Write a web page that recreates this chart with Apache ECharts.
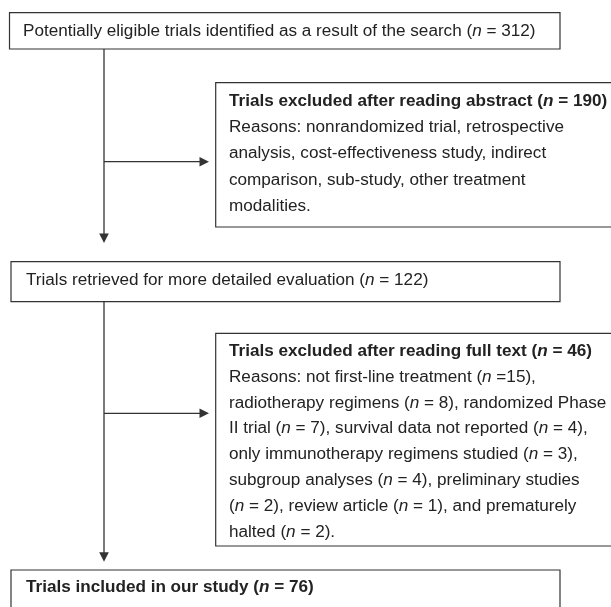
<!DOCTYPE html>
<html><head><meta charset="utf-8">
<script src="https://cdn.jsdelivr.net/npm/echarts@6/dist/echarts.min.js"></script>
<style>html,body{margin:0;padding:0;background:#fff}#c{width:611px;height:607px}</style>
</head><body><div id="c"></div>
<script>
// ---------- data ----------
const stageLabels = ['Potentially eligible trials identified as a result of the search', 'Trials retrieved for more detailed evaluation', 'Trials included in our study'];
const stageCounts = [312, 122, 76];
const exclusionTitles = ['Trials excluded after reading abstract', 'Trials excluded after reading full text'];
const exclusionCounts = [190, 46];
const abstractReasonLines = ['Reasons: nonrandomized trial, retrospective', 'analysis, cost-effectiveness study, indirect', 'comparison, sub-study, other treatment', 'modalities.'];
const fullTextReasonCounts = [15, 8, 7, 4, 3, 4, 2, 1, 2];
// '#k' placeholders are replaced with "(n = count)"; '#k!' uses the tight form "(n =count)"
const fullTextReasonLines = ['Reasons: not first-line treatment #0!,', 'radiotherapy regimens #1, randomized Phase', 'II trial #2, survival data not reported #3,', 'only immunotherapy regimens studied #4,', 'subgroup analyses #5, preliminary studies', '#6, review article #7, and prematurely', 'halted #8.'];

// ---------- layout (pixel space of the hidden axes) ----------
const BOXES = [
  {x0: 9.5, y0: 12.7, x1: 560, y1: 49, tx: 23, ty: 31.5, step: 0},
  {x0: 215.7, y0: 82.7, x1: 640, y1: 227, tx: 229, ty: 101.6, step: 26.2},
  {x0: 11, y0: 261.7, x1: 560, y1: 301.7, tx: 26, ty: 281, step: 0},
  {x0: 215.7, y0: 333.3, x1: 640, y1: 546, tx: 229, ty: 351.6, step: 25.8},
  {x0: 11, y0: 570, x1: 560, y1: 660, tx: 26, ty: 588, step: 0}
];
const ARROWS = [
  [104, 49, 104, 243],
  [104, 161.7, 209, 161.7],
  [104, 301.7, 104, 561.7],
  [104, 413.3, 209, 413.3]
];
const FONT = 'Liberation Sans, Arial, Helvetica, sans-serif';
const FS = 16, SX = 1.07, TXT = '#222', LINE = '#333';

const nTag = (c, bold, tight) => '(' + (bold ? '{bi|n}' : '{i|n}') + (tight ? ' =' : ' = ') + c + ')';
const fill = (s) => s.replace(/#(\d)(!?)/g, (m, k, t) => nTag(fullTextReasonCounts[+k], false, t === '!'));

// lines per box: [text, bold]
const boxLines = [
  [[stageLabels[0] + ' ' + nTag(stageCounts[0]), false]],
  [[exclusionTitles[0] + ' ' + nTag(exclusionCounts[0], true), true]].concat(abstractReasonLines.map(s => [s, false])),
  [[stageLabels[1] + ' ' + nTag(stageCounts[1]), false]],
  [[exclusionTitles[1] + ' ' + nTag(exclusionCounts[1], true), true]].concat(fullTextReasonLines.map(s => [fill(s), false])),
  [[stageLabels[2] + ' ' + nTag(stageCounts[2], true), true]]
];

const rich = {
  i: {fontStyle: 'italic', fontWeight: 'normal', fontSize: FS, fontFamily: FONT, fill: TXT},
  bi: {fontStyle: 'italic', fontWeight: 'bold', fontSize: FS, fontFamily: FONT, fill: TXT}
};

const chart = echarts.init(document.getElementById('c'), null, {renderer: 'canvas'});
chart.setOption({
  animation: false,
  backgroundColor: '#fff',
  grid: {left: 0, right: 0, top: 0, bottom: 0},
  xAxis: {type: 'value', min: 0, max: 611, show: false},
  yAxis: {type: 'value', min: 0, max: 607, inverse: true, show: false},
  series: [
    {
      type: 'custom', silent: true, clip: false,
      data: BOXES.map((b, i) => [b.x0, b.y0, i]),
      renderItem: function (params, api) {
        const i = params.dataIndex, b = BOXES[i];
        const p0 = api.coord([b.x0, b.y0]), p1 = api.coord([b.x1, b.y1]);
        const children = [{
          type: 'rect',
          shape: {x: p0[0], y: p0[1], width: p1[0] - p0[0], height: p1[1] - p0[1]},
          style: {fill: '#fff', stroke: LINE, lineWidth: 1.2}
        }];
        boxLines[i].forEach((ln, k) => {
          const p = api.coord([b.tx, b.ty + k * b.step]);
          children.push({
            type: 'text', x: p[0], y: p[1], scaleX: SX,
            style: {
              text: ln[0], x: 0, y: 0, fill: TXT,
              fontSize: FS, fontFamily: FONT, fontWeight: ln[1] ? 'bold' : 'normal',
              align: 'left', verticalAlign: 'middle', textAlign: 'left', textVerticalAlign: 'middle',
              rich: rich
            }
          });
        });
        return {type: 'group', children: children};
      }
    },
    {
      type: 'custom', silent: true, clip: false,
      data: ARROWS,
      renderItem: function (params, api) {
        const a = ARROWS[params.dataIndex];
        const s = api.coord([a[0], a[1]]), e = api.coord([a[2], a[3]]);
        const vert = Math.abs(e[0] - s[0]) < 0.5;
        const L = 9.5, W = 4.8;
        let head, lineEnd;
        if (vert) {
          head = [[e[0], e[1]], [e[0] - W, e[1] - L], [e[0] + W, e[1] - L]];
          lineEnd = [e[0], e[1] - L + 1];
        } else {
          head = [[e[0], e[1]], [e[0] - L, e[1] - W], [e[0] - L, e[1] + W]];
          lineEnd = [e[0] - L + 1, e[1]];
        }
        return {type: 'group', children: [
          {type: 'line', shape: {x1: s[0], y1: s[1], x2: lineEnd[0], y2: lineEnd[1]}, style: {stroke: LINE, lineWidth: 1.3}},
          {type: 'polygon', shape: {points: head}, style: {fill: LINE}}
        ]};
      }
    }
  ]
});
</script>
</body></html>
